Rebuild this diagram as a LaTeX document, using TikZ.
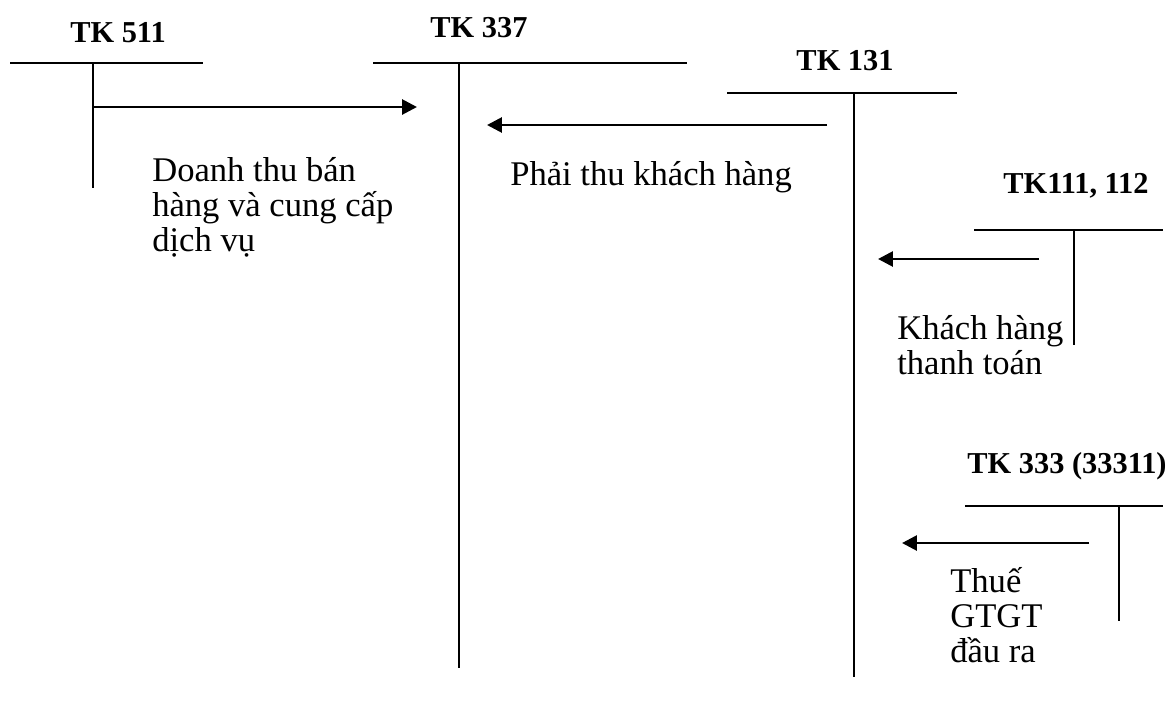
\documentclass[tikz,border=0pt]{standalone}
\usepackage{fontspec}
\setmainfont{Liberation Serif}
\usetikzlibrary{arrows.meta}

\begin{document}
\begin{tikzpicture}[x=0.025cm,y=-0.025cm,
  acc/.style={font=\fontsize{21.6}{24}\selectfont\bfseries,
    inner sep=0pt, anchor=base},
  txt/.style={font=\fontsize{24.6}{24.8}\selectfont,
    inner sep=0pt, anchor=base west, align=left},
  tl/.style={line width=1.5pt},
  a/.style={-{Triangle[length=10.5pt,width=10.5pt]},line width=2pt}
]
\useasboundingbox (0,0) rectangle (1174,705);

% T accounts
\node[acc] (k511) at (118,42) {TK 511};
\draw[tl] (10,63) -- (203,63) (93,63) -- (93,188);
\node[acc] (k337) at (479,37) {TK 337};
\draw[tl] (373,63) -- (687,63) (459,63) -- (459,668);
\node[acc] (k131) at (845,70) {TK 131};
\draw[tl] (727,93) -- (957,93) (854,93) -- (854,677);
\node[acc] (k111) at (1076,193) {TK111, 112};
\draw[tl] (974,230) -- (1163,230) (1074,230) -- (1074,345);
\node[acc] (k333) at (1067,473) {TK 333 (33311)};
\draw[tl] (965,506) -- (1163,506) (1119,506) -- (1119,621);

% arrow ends
\coordinate (s1) at (93,107);
\coordinate (e1) at (417,107);
\coordinate (s2) at (827,125);
\coordinate (e2) at (487,125);
\coordinate (s3) at (1039,259);
\coordinate (e3) at (878,259);
\coordinate (s4) at (1089,543);
\coordinate (e4) at (902,543);

\draw[a] (s1) -- (e1);
\draw[a] (s2) -- (e2);
\draw[a] (s3) -- (e3);
\draw[a] (s4) -- (e4);

% texts (base = last line)
\node[txt] (t1) at (152,251)
  {Doanh thu bán\\hàng và cung cấp\\dịch vụ};
\node[txt] (t2) at (510,185) {Phải thu khách hàng};
\node[txt] (t3) at (897,374) {Khách hàng\\thanh toán};
\node[txt] (t4) at (950,662) {Thuế\\GTGT\\đầu ra};
\end{tikzpicture}
\end{document}
